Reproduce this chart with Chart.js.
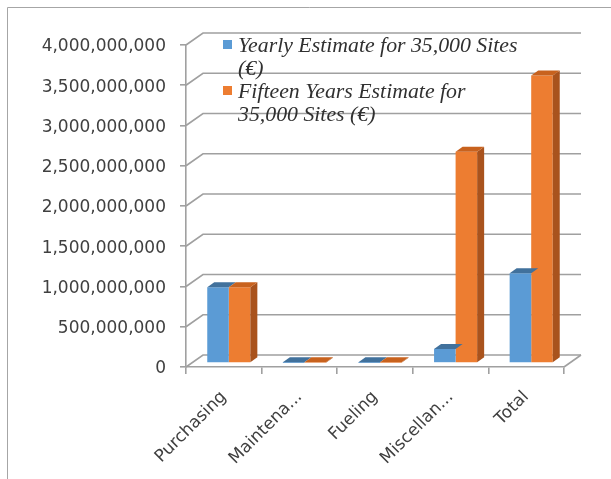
<!DOCTYPE html>
<html>
<head>
<meta charset="utf-8">
<script src="https://cdn.jsdelivr.net/npm/chart.js@4"></script>
<style>
  html, body { margin: 0; padding: 0; background: #fff; }
  #wrap { width: 611px; height: 479px; position: relative; }
</style>
</head>
<body>
<div id="wrap"><canvas id="chart" width="611" height="479"></canvas></div>
<script>
const categories = ['Purchasing', 'Maintena...', 'Fueling', 'Miscellan...', 'Total'];
const yearly = [940000000, 300000, 200000, 175000000, 1115500000];
const fifteenYears = [940000000, 4500000, 3000000, 2625000000, 3572500000];
const seriesLabels = ['Yearly Estimate for 35,000 Sites (€)', 'Fifteen Years Estimate for 35,000 Sites (€)'];
const yTicks = [0, 500000000, 1000000000, 1500000000, 2000000000, 2500000000, 3000000000, 3500000000, 4000000000];

const front = ['#5b9bd5', '#ed7d31'];
const topFace = ['#41719c', '#c8621e'];
const sideFace = ['#3f6f9a', '#a9531d'];
const gridCol = '#a0a0a0';

// 3d wall offset and bar depth
const WX = 17, WY = -12;
const BX = 5, BY = -4;
const DX = 7, DY = -5;

const walls = {
  id: 'walls',
  beforeDatasetsDraw(chart) {
    const { ctx, chartArea: a, scales: { y } } = chart;
    ctx.save();
    ctx.strokeStyle = gridCol;
    ctx.lineWidth = 1.6;
    yTicks.forEach(v => {
      const py = y.getPixelForValue(v);
      ctx.beginPath();
      ctx.moveTo(a.left, py);
      ctx.lineTo(a.left + WX, py + WY);
      ctx.lineTo(a.right + WX, py + WY);
      ctx.stroke();
    });
    ctx.beginPath();
    ctx.moveTo(a.right, a.bottom);
    ctx.lineTo(a.right + WX, a.bottom + WY);
    ctx.stroke();
    ctx.restore();
    ctx.save();
    ctx.translate(BX, BY);
  },
  afterDatasetsDraw(chart) {
    const { ctx } = chart;
    const n = chart.data.datasets.length;
    for (let i = 0; i < categories.length; i++) {
      for (let d = 0; d < n; d++) {
        const bar = chart.getDatasetMeta(d).data[i];
        const p = bar.getProps(['x', 'y', 'base', 'width'], true);
        const l = p.x - p.width / 2, r = p.x + p.width / 2;
        const t = Math.min(p.y, p.base), b = Math.max(p.y, p.base);
        if (d === n - 1) {
          ctx.fillStyle = sideFace[d];
          ctx.beginPath();
          ctx.moveTo(r, t);
          ctx.lineTo(r + DX, t + DY);
          ctx.lineTo(r + DX, b + DY);
          ctx.lineTo(r, b);
          ctx.closePath();
          ctx.fill();
        }
        ctx.fillStyle = topFace[d];
        ctx.beginPath();
        ctx.moveTo(l, t);
        ctx.lineTo(l + DX, t + DY);
        ctx.lineTo(r + DX, t + DY);
        ctx.lineTo(r, t);
        ctx.closePath();
        ctx.fill();
      }
    }
    ctx.restore();
  },
  afterDraw(chart) {
    const { ctx } = chart;
    ctx.save();
    // outer frame
    ctx.strokeStyle = '#a6a6a6';
    ctx.lineWidth = 1;
    ctx.beginPath();
    ctx.moveTo(7.5, 479);
    ctx.lineTo(7.5, 7.5);
    ctx.lineTo(611, 7.5);
    ctx.stroke();

    // legend, wrapped like the original
    ctx.font = 'italic 21.8px "Liberation Serif"';
    ctx.textBaseline = 'alphabetic';
    let base = 52;
    chart.data.datasets.forEach((ds, d) => {
      const words = ds.label.split(' ');
      const lines = [];
      let cur = '';
      words.forEach(w => {
        const test = cur ? cur + ' ' + w : w;
        if (ctx.measureText(test).width > 286 && cur) { lines.push(cur); cur = w; } else cur = test;
      });
      lines.push(cur);
      ctx.fillStyle = ds.backgroundColor;
      ctx.fillRect(223, base - 12, 9, 9);
      ctx.fillStyle = '#303030';
      lines.forEach((ln, k) => ctx.fillText(ln, 238, base + k * 23));
      base += lines.length * 23;
    });
    ctx.restore();
  }
};

new Chart(document.getElementById('chart'), {
  type: 'bar',
  plugins: [walls],
  data: {
    labels: categories,
    datasets: [
      { label: seriesLabels[0], data: yearly, backgroundColor: front[0] },
      { label: seriesLabels[1], data: fifteenYears, backgroundColor: front[1] }
    ]
  },
  options: {
    responsive: false,
    animation: false,
    layout: { padding: { left: 0, top: 45, right: 47, bottom: 0 } },
    datasets: { bar: { categoryPercentage: 0.57, barPercentage: 1 } },
    plugins: { legend: { display: false }, tooltip: { enabled: false } },
    scales: {
      x: {
        grid: { drawOnChartArea: false, drawTicks: true, tickLength: 7, color: gridCol, lineWidth: 1.6 },
        border: { display: true, color: gridCol, width: 1.6 },
        ticks: {
          color: '#404040', font: { family: 'DejaVu Sans', size: 17 },
          maxRotation: 45, minRotation: 45, autoSkip: false, padding: 13
        },
        afterFit(s) { s.height = 112; }
      },
      y: {
        min: 0, max: 4000000000,
        afterBuildTicks(s) { s.ticks = yTicks.map(v => ({ value: v })); },
        grid: { drawOnChartArea: false, drawTicks: true, tickLength: 6, color: gridCol, lineWidth: 1.6 },
        border: { display: true, color: gridCol, width: 1.6 },
        ticks: {
          color: '#404040', font: { family: 'DejaVu Sans', size: 17 }, padding: 14, labelOffset: 2,
          callback: v => Number(v).toLocaleString('en-US')
        },
        afterFit(s) { s.width = 186; }
      }
    }
  }
});
</script>
</body>
</html>
